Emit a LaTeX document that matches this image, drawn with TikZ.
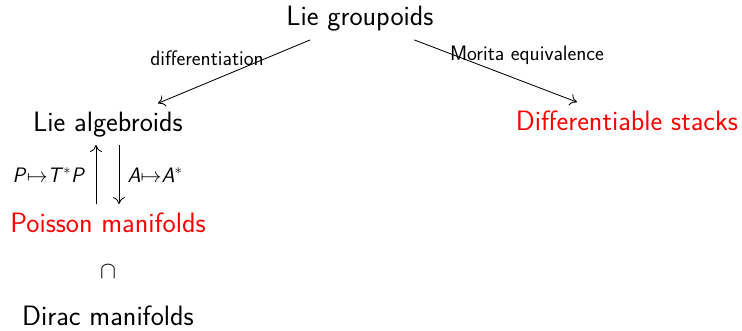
\documentclass[tikz,border=0pt]{standalone}
\usepackage{fontspec}
\usepackage{fix-cm}
\usetikzlibrary{arrows.meta}
\begin{document}
\begin{tikzpicture}[x=1pt,y=1pt,
  big/.style={font=\sffamily\fontsize{28}{33}\selectfont, inner sep=8pt, anchor=base},
  redtext/.style={text={rgb,255:red,255;green,0;blue,0}},
  lab/.style={font=\sffamily\fontsize{20.9}{25}\selectfont, inner sep=1pt},
  conn/.style={line width=0.85pt, -{To[length=7pt,width=12pt]}}
]
\useasboundingbox (0,0) rectangle (742,330);
\node[big] (lg) at (360,304) {Lie groupoids};
\node[big] (la) at (108,199) {Lie algebroids};
\node[big,redtext] (ds) at (627,200) {Differentiable stacks};
\node[big,redtext] (pm) at (108,98) {Poisson manifolds};
\node[font=\fontsize{24}{28}\selectfont, inner sep=2pt] (cap) at (108,58) {$\cap$};
\node[big, inner sep=0pt] (dm) at (108,4.5) {Dirac manifolds};
\draw[conn] (lg) -- (la);
\draw[conn] (lg) -- ([xshift=-50pt]ds.north);
\draw[conn] ([xshift=-12pt]pm.north) -- ([xshift=-12pt]la.south);
\draw[conn] ([xshift=11pt]la.south) -- ([xshift=11pt]pm.north);
\node[lab] (l1) at (207,272) {differentiation};
\node[lab] (l2) at (527,275) {Morita equivalence};
\node[lab] (l3) at (49,155) {\textit{P}$\mapsto$\textit{T}$^{*}$\textit{P}};
\node[lab] (l4) at (155,155) {\textit{A}$\mapsto$\textit{A}$^{*}$};
\end{tikzpicture}
\end{document}
